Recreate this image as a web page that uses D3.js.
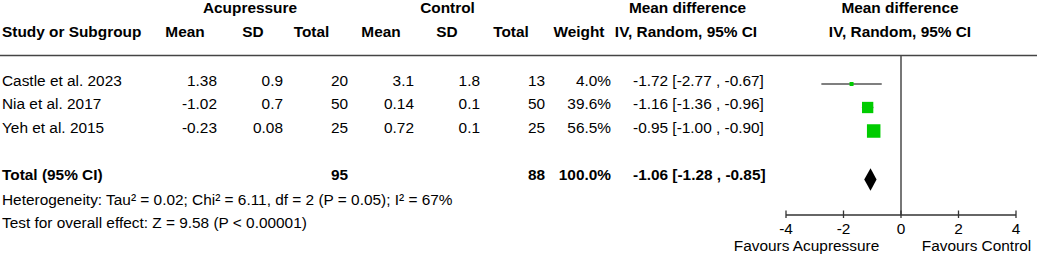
<!DOCTYPE html>
<html>
<head>
<meta charset="utf-8">
<script src="https://cdn.jsdelivr.net/npm/d3@7"></script>
<style>
  html, body { margin: 0; padding: 0; background: #fff; }
  svg { display: block; }
  text { font-family: "Liberation Sans", Arial, sans-serif; font-size: 15.4px; fill: #000; }
  .b { font-weight: bold; }
</style>
</head>
<body>
<svg id="chart" width="1040" height="258"></svg>
<script>
// ---- Data ----
const studies   = ["Castle et al. 2023", "Nia et al. 2017", "Yeh et al. 2015"];
const acuMean   = ["1.38", "-1.02", "-0.23"];
const acuSD     = ["0.9", "0.7", "0.08"];
const acuTotal  = [20, 50, 25];
const ctlMean   = ["3.1", "0.14", "0.72"];
const ctlSD     = ["1.8", "0.1", "0.1"];
const ctlTotal  = [13, 50, 25];
const weights   = [4.0, 39.6, 56.5];
const md        = [-1.72, -1.16, -0.95];
const ciLow     = [-2.77, -1.36, -1.00];
const ciHigh    = [-0.67, -0.96, -0.90];

const totalLabel = "Total (95% CI)";
const totalAcu = 95, totalCtl = 88, totalWeight = 100.0;
const totalMD = -1.06, totalLow = -1.28, totalHigh = -0.85;

const heterogeneity = "Heterogeneity: Tau² = 0.02; Chi² = 6.11, df = 2 (P = 0.05); I² = 67%";
const overallEffect = "Test for overall effect: Z = 9.58 (P < 0.00001)";

const axisTicks = [-4, -2, 0, 2, 4];
const favourLeft = "Favours Acupressure", favourRight = "Favours Control";

// ---- Layout ----
const svg = d3.select("#chart");
const x = d3.scaleLinear().domain([-4, 4]).range([786, 1016]);
const rowY = d3.scalePoint().domain(studies).range([84, 131]);
const loc = d3.formatLocale({decimal: ".", thousands: ",", grouping: [3], currency: ["", ""], minus: "-"});
const f2 = loc.format(".2f");
const fw = loc.format(".1f");

// Header
const hdr1 = [
  {t: "Acupressure", x: 250}, {t: "Control", x: 447.5},
  {t: "Mean difference", x: 687.5}, {t: "Mean difference", x: 900}
];
hdr1.forEach(d => svg.append("text").attr("class","b").attr("x", d.x).attr("y", 13).attr("text-anchor","middle").text(d.t));
svg.append("text").attr("class","b").attr("x", 2).attr("y", 37).text("Study or Subgroup");
const hdr2 = [
  {t: "Mean", x: 185}, {t: "SD", x: 253}, {t: "Total", x: 311.5},
  {t: "Mean", x: 381}, {t: "SD", x: 447}, {t: "Total", x: 511},
  {t: "Weight", x: 579}, {t: "IV, Random, 95% CI", x: 686}, {t: "IV, Random, 95% CI", x: 900}
];
hdr2.forEach(d => svg.append("text").attr("class","b").attr("x", d.x).attr("y", 37).attr("text-anchor","middle").text(d.t));

// header rule
svg.append("line").attr("x1", 0).attr("x2", 1037).attr("y1", 55.5).attr("y2", 55.5)
  .attr("stroke", "#444").attr("stroke-width", 1.6);

// Study rows
const colEnds = [217, 283, 348, 414, 480, 545, 611];
studies.forEach((s, i) => {
  const yb = rowY(s) + 1.5;
  svg.append("text").attr("x", 2).attr("y", yb).text(s);
  const vals = [acuMean[i], acuSD[i], acuTotal[i], ctlMean[i], ctlSD[i], ctlTotal[i], fw(weights[i]) + "%"];
  vals.forEach((v, j) => svg.append("text").attr("x", colEnds[j]).attr("y", yb).attr("text-anchor","end").text(v));
  svg.append("text").attr("x", 633).attr("y", yb)
    .text(`${f2(md[i])} [${f2(ciLow[i])} , ${f2(ciHigh[i])}]`);
});

// Total row
const totY = 180;
svg.append("text").attr("class","b").attr("x", 2).attr("y", totY).text(totalLabel);
svg.append("text").attr("class","b").attr("x", colEnds[2]).attr("y", totY).attr("text-anchor","end").text(totalAcu);
svg.append("text").attr("class","b").attr("x", colEnds[5]).attr("y", totY).attr("text-anchor","end").text(totalCtl);
svg.append("text").attr("class","b").attr("x", colEnds[6]).attr("y", totY).attr("text-anchor","end").text(fw(totalWeight) + "%");
svg.append("text").attr("class","b").attr("x", 633).attr("y", totY)
  .text(`${f2(totalMD)} [${f2(totalLow)} , ${f2(totalHigh)}]`);

svg.append("text").attr("x", 2).attr("y", 204.5).text(heterogeneity);
svg.append("text").attr("x", 2).attr("y", 227.5).text(overallEffect);

// Zero line
svg.append("line").attr("x1", x(0)).attr("x2", x(0)).attr("y1", 56).attr("y2", 215)
  .attr("stroke", "#555").attr("stroke-width", 1.6);

// CI lines and squares
const sizeScale = d3.scaleSqrt().domain([0, d3.max(weights)]).range([0, 13.5]);
studies.forEach((s, i) => {
  const y = rowY(s);
  svg.append("line").attr("x1", x(ciLow[i])).attr("x2", x(ciHigh[i])).attr("y1", y).attr("y2", y)
    .attr("stroke", "#555").attr("stroke-width", 1.4);
  const sz = Math.max(sizeScale(weights[i]), 4);
  svg.append("rect").attr("x", x(md[i]) - sz/2).attr("y", y - sz/2).attr("width", sz).attr("height", sz)
    .attr("fill", "#00cc00");
});

// Diamond
const dy = 179.5, dh = 11.2;
svg.append("path")
  .attr("d", `M${x(totalLow)},${dy} L${x(totalMD)},${dy-dh} L${x(totalHigh)},${dy} L${x(totalMD)},${dy+dh} Z`)
  .attr("fill", "#000");

// Axis
const axisG = svg.append("g").attr("transform", "translate(0,215)");
axisG.append("line").attr("x1", x(-4)).attr("x2", x(4)).attr("y1", 0).attr("y2", 0)
  .attr("stroke", "#333").attr("stroke-width", 1.5);
axisG.selectAll("line.tick").data(axisTicks).enter().append("line").attr("class","tick")
  .attr("x1", d => x(d)).attr("x2", d => x(d)).attr("y1", -4.5).attr("y2", 3)
  .attr("stroke", "#333").attr("stroke-width", 1.3);
axisG.selectAll("text").data(axisTicks).enter().append("text")
  .attr("x", d => x(d)).attr("y", 19).attr("text-anchor", "middle").text(d => String(d));

svg.append("text").attr("x", 806.5).attr("y", 251).attr("text-anchor","middle").text(favourLeft);
svg.append("text").attr("x", 976.5).attr("y", 251).attr("text-anchor","middle").text(favourRight);
</script>
</body>
</html>
